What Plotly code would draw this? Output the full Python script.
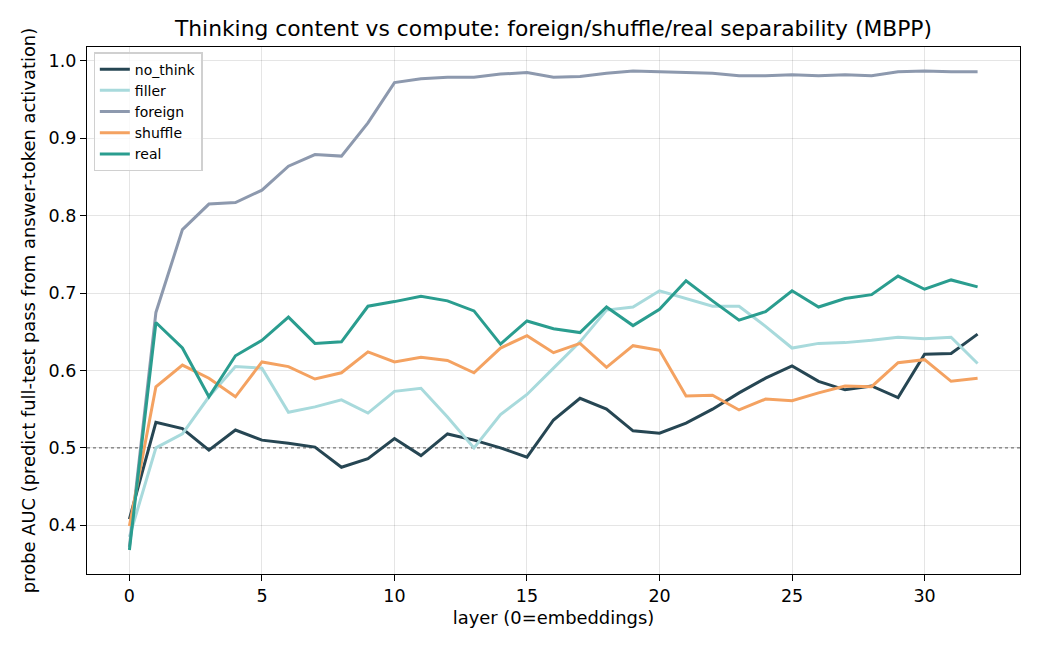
import plotly.graph_objects as go

# layer index (0 = embeddings)
layers = list(range(33))

no_think = [0.408, 0.533, 0.525, 0.497, 0.523, 0.510, 0.506, 0.501, 0.475, 0.486,
            0.512, 0.490, 0.518, 0.510, 0.500, 0.488, 0.536, 0.564, 0.550, 0.522,
            0.519, 0.532, 0.550, 0.571, 0.590, 0.606, 0.586, 0.575, 0.580, 0.565,
            0.621, 0.622, 0.647]
filler = [0.385, 0.500, 0.518, 0.566, 0.605, 0.603, 0.546, 0.553, 0.562, 0.545,
          0.573, 0.577, 0.540, 0.500, 0.543, 0.569, 0.603, 0.637, 0.678, 0.682,
          0.703, 0.693, 0.683, 0.683, 0.657, 0.629, 0.635, 0.636, 0.639, 0.643,
          0.641, 0.643, 0.609]
foreign = [0.372, 0.675, 0.782, 0.815, 0.817, 0.833, 0.864, 0.879, 0.877, 0.920,
           0.972, 0.977, 0.979, 0.979, 0.983, 0.985, 0.979, 0.980, 0.984, 0.987,
           0.986, 0.985, 0.984, 0.981, 0.981, 0.982, 0.981, 0.982, 0.981, 0.986,
           0.987, 0.986, 0.986]
shuffle = [0.399, 0.579, 0.607, 0.590, 0.566, 0.611, 0.605, 0.589, 0.597, 0.624,
           0.611, 0.617, 0.613, 0.597, 0.629, 0.645, 0.623, 0.635, 0.604, 0.632,
           0.626, 0.567, 0.568, 0.549, 0.563, 0.561, 0.571, 0.580, 0.579, 0.610,
           0.614, 0.586, 0.590]
real = [0.368, 0.662, 0.629, 0.566, 0.619, 0.639, 0.669, 0.635, 0.637, 0.683,
        0.689, 0.696, 0.690, 0.677, 0.634, 0.664, 0.654, 0.649, 0.682, 0.658,
        0.679, 0.716, 0.690, 0.665, 0.676, 0.703, 0.682, 0.693, 0.698, 0.722,
        0.705, 0.717, 0.708]

series = [("no_think", no_think, "#264653"),
          ("filler", filler, "#a8dadc"),
          ("foreign", foreign, "#8d99ae"),
          ("shuffle", shuffle, "#f4a261"),
          ("real", real, "#2a9d8f")]

fig = go.Figure()
for name, vals, col in series:
    fig.add_trace(go.Scatter(x=layers, y=vals, mode="lines", name=name,
                             line=dict(color=col, width=3)))

# chance line
fig.add_hline(y=0.5, line=dict(color="#808080", width=1.3, dash="dot"), layer="below")

axis_style = dict(showline=True, linecolor="black", linewidth=1.3, mirror=True,
                  ticks="outside", ticklen=6, tickcolor="black", tickwidth=1.3,
                  showgrid=True, gridcolor="rgba(0,0,0,0.1)", gridwidth=1.3,
                  zeroline=False, automargin=False,
                  tickfont=dict(size=17.5, color="black"))

fig.update_xaxes(range=[-1.6, 33.6], tickvals=[0, 5, 10, 15, 20, 25, 30],
                 title=dict(text="layer (0=embeddings)", font=dict(size=17.9, color="black"), standoff=6),
                 **axis_style)
fig.update_yaxes(range=[0.337, 1.018], tickvals=[0.4, 0.5, 0.6, 0.7, 0.8, 0.9, 1.0],
                 tickformat=".1f",
                 title=dict(text="probe AUC (predict full-test pass from answer-token activation)",
                            font=dict(size=17.9, color="black"), standoff=8),
                 **axis_style)

# page body has an 8px margin, so margins are shifted to compensate
fig.update_layout(
    width=1040, height=650,
    font=dict(family="DejaVu Sans", color="black"),
    paper_bgcolor="white", plot_bgcolor="white",
    margin=dict(l=79, r=28, t=39, b=84),
    title=dict(text="Thinking content vs compute: foreign/shuffle/real separability (MBPP)",
               x=0.5245, xanchor="center", y=0.969, yanchor="middle",
               font=dict(size=21.8, color="black")),
    legend=dict(x=0.007, y=0.99, xanchor="left", yanchor="top",
                bgcolor="rgba(255,255,255,0.8)", bordercolor="#d0d0d0", borderwidth=1.3,
                font=dict(size=14), itemwidth=30, tracegroupgap=0),
)

fig.write_html("out.html")
